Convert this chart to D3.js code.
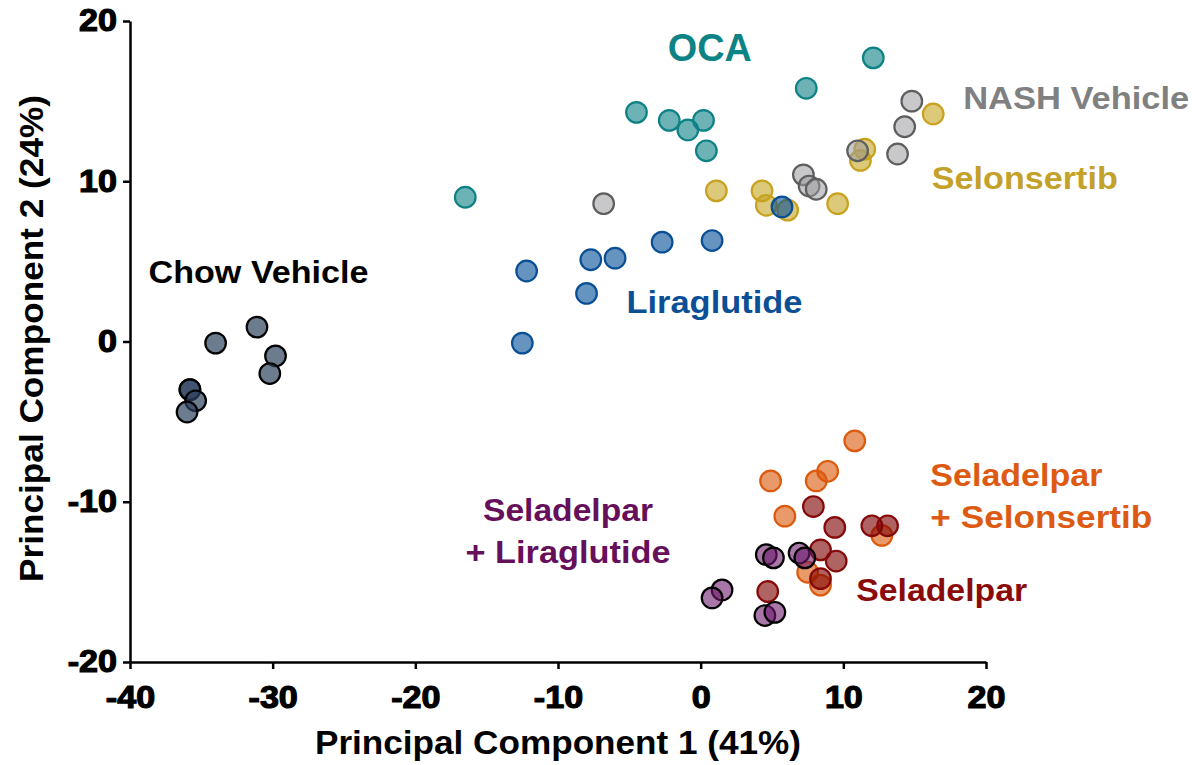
<!DOCTYPE html>
<html>
<head>
<meta charset="utf-8">
<script src="https://cdn.jsdelivr.net/npm/d3@7"></script>
<style>
  body { margin: 0; background: #fff; }
  svg { display: block; font-family: "Liberation Sans", Arial, sans-serif; }
</style>
</head>
<body>
<svg width="1197" height="765"></svg>
<script>
// group names, drawn in this order (later on top)
var groups = ["OCA", "Selonsertib", "NASH Vehicle", "Liraglutide", "Chow Vehicle",
              "Seladelpar + Selonsertib", "Seladelpar", "Seladelpar + Liraglutide"];

// PC1 / PC2 scores per group
var ocaX = [-16.5, -4.5, -2.2, -0.9, 0.2, 0.4, 12.1, 7.4];
var ocaY = [9.0, 14.3, 13.8, 13.2, 13.8, 11.9, 17.7, 15.8];
var selonX = [1.1, 4.3, 4.6, 6.1, 9.6, 11.2, 11.5, 16.3];
var selonY = [9.4, 9.4, 8.5, 8.2, 8.6, 11.3, 12.0, 14.2];
var nashX = [-6.8, 7.2, 7.6, 8.1, 11.0, 13.8, 14.3, 14.8];
var nashY = [8.6, 10.4, 9.7, 9.5, 11.9, 11.7, 13.4, 15.0];
var liraX = [-12.2, -7.7, -6.0, -2.7, 0.8, -8.0, -12.5, 5.7];
var liraY = [4.4, 5.1, 5.2, 6.2, 6.3, 3.0, -0.1, 8.4];
var chowX = [-34.0, -31.1, -29.8, -30.2, -35.8, -35.8, -35.4, -36.0];
var chowY = [-0.1, 0.9, -0.9, -2.0, -3.0, -3.0, -3.7, -4.4];
var comboSelonX = [10.8, 8.9, 8.1, 4.9, 5.9, 12.7, 7.5, 8.4];
var comboSelonY = [-6.2, -8.1, -8.7, -8.7, -10.9, -12.1, -14.4, -15.2];
var seladX = [7.9, 9.4, 12.0, 13.1, 8.4, 9.5, 8.4, 4.7];
var seladY = [-10.3, -11.6, -11.5, -11.5, -13.0, -13.7, -14.8, -15.6];
var comboLiraX = [4.6, 5.1, 6.9, 7.3, 1.5, 0.8, 4.5, 5.2];
var comboLiraY = [-13.3, -13.5, -13.2, -13.5, -15.5, -16.0, -17.1, -16.9];

var xTicks = [-40, -30, -20, -10, 0, 10, 20];
var yTicks = [-20, -10, 0, 10, 20];

var seriesX = [ocaX, selonX, nashX, liraX, chowX, comboSelonX, seladX, comboLiraX];
var seriesY = [ocaY, selonY, nashY, liraY, chowY, comboSelonY, seladY, comboLiraY];

// styles
var fills   = ["#0c8085", "#c5a521", "#9a9a9e", "#004d96", "#2f4360", "#da5707", "#7e0404", "#6e1c6e"];
var opac    = [0.6, 0.6, 0.55, 0.6, 0.7, 0.6, 0.62, 0.6];
var strokes = ["#0d8285", "#c8a21f", "#5e5e5e", "#0a4f96", "#000000", "#dc5a0e", "#860909", "#000000"];
var labelColors = ["#0e8385", "#c4a12a", "#808080", "#0b4f96", "#000000", "#dd5a12", "#8b0b0b", "#660f5a"];

// label layout: anchor, data position of first baseline, font size, widths per line
var labelLayout = [
  {lines: ["OCA"], anchor: "start", x: -2.3, y: 17.5, size: 38, w: [84]},
  {lines: ["Selonsertib"], anchor: "start", x: 16.2, y: 9.5, size: 32, w: [186]},
  {lines: ["NASH Vehicle"], anchor: "start", x: 18.4, y: 14.5, size: 32, w: [226]},
  {lines: ["Liraglutide"], anchor: "start", x: -5.2, y: 1.8, size: 31, w: [176]},
  {lines: ["Chow Vehicle"], anchor: "start", x: -38.7, y: 3.65, size: 31, w: [220]},
  {lines: ["Seladelpar", "+ Selonsertib"], anchor: "start", x: 16.1, y: -9.0, size: 32, w: [172, 222]},
  {lines: ["Seladelpar"], anchor: "start", x: 10.9, y: -16.2, size: 32, w: [171]},
  {lines: ["Seladelpar", "+ Liraglutide"], anchor: "middle", x: -9.3, y: -11.2, size: 32, w: [170, 205]}
];

var svg = d3.select("svg");
var mLeft = 130, mRight = 986, mTop = 21, mBottom = 662;

var x = d3.scaleLinear().domain([-40, 20]).range([mLeft, mRight]);
var y = d3.scaleLinear().domain([-20, 20]).range([mBottom, mTop]);

function widen(sel, k) {
  sel.each(function() {
    var w = this.getComputedTextLength();
    this.setAttribute("textLength", w * k);
    this.setAttribute("lengthAdjust", "spacingAndGlyphs");
  });
}

var fmt = function(d) { return String(d); };

// axes
var gx = svg.append("g")
  .attr("transform", "translate(0," + mBottom + ")")
  .call(d3.axisBottom(x).tickValues(xTicks).tickFormat(fmt).tickSize(7).tickSizeOuter(0).tickPadding(17));
var gy = svg.append("g")
  .attr("transform", "translate(" + mLeft + ",0)")
  .call(d3.axisLeft(y).tickValues(yTicks).tickFormat(fmt).tickSize(7).tickSizeOuter(0).tickPadding(6));

[gx, gy].forEach(function(g) {
  g.select(".domain").attr("stroke", "#000").attr("stroke-width", 2.5);
  g.selectAll(".tick line").attr("stroke", "#000").attr("stroke-width", 2.5);
  g.selectAll(".tick text")
    .attr("fill", "#000")
    .attr("stroke", "#000")
    .attr("stroke-width", 1.2)
    .style("font-family", "'Liberation Sans', Arial, sans-serif")
    .style("font-size", "31px")
    .style("font-weight", "bold");
});
widen(gx.selectAll(".tick text"), 1.1);
widen(gy.selectAll(".tick text"), 1.1);

// axis titles
svg.append("text")
  .attr("x", (mLeft + mRight) / 2)
  .attr("y", 754)
  .attr("text-anchor", "middle")
  .attr("font-size", "34px")
  .attr("font-weight", "bold")
  .attr("textLength", 486)
  .attr("lengthAdjust", "spacingAndGlyphs")
  .text("Principal Component 1 (41%)");

svg.append("text")
  .attr("transform", "translate(43," + ((mTop + mBottom) / 2 - 3) + ") rotate(-90)")
  .attr("text-anchor", "middle")
  .attr("font-size", "34px")
  .attr("font-weight", "bold")
  .attr("textLength", 487)
  .attr("lengthAdjust", "spacingAndGlyphs")
  .text("Principal Component 2 (24%)");

// points
groups.forEach(function(name, i) {
  var pts = seriesX[i].map(function(v, j) { return {x: v, y: seriesY[i][j]}; });
  svg.append("g")
    .attr("class", "series")
    .selectAll("circle")
    .data(pts)
    .enter().append("circle")
    .attr("cx", function(d) { return x(d.x); })
    .attr("cy", function(d) { return y(d.y); })
    .attr("r", 10.3)
    .attr("fill", fills[i])
    .attr("fill-opacity", opac[i])
    .attr("stroke", strokes[i])
    .attr("stroke-width", 2.2);
});

// group labels
groups.forEach(function(name, i) {
  var L = labelLayout[i];
  L.lines.forEach(function(line, k) {
    svg.append("text")
      .attr("x", x(L.x))
      .attr("y", y(L.y) + k * 42)
      .attr("text-anchor", L.anchor)
      .attr("fill", labelColors[i])
      .attr("font-size", L.size + "px")
      .attr("font-weight", "bold")
      .attr("textLength", L.w[k])
      .attr("lengthAdjust", "spacingAndGlyphs")
      .text(line);
  });
});
</script>
</body>
</html>
